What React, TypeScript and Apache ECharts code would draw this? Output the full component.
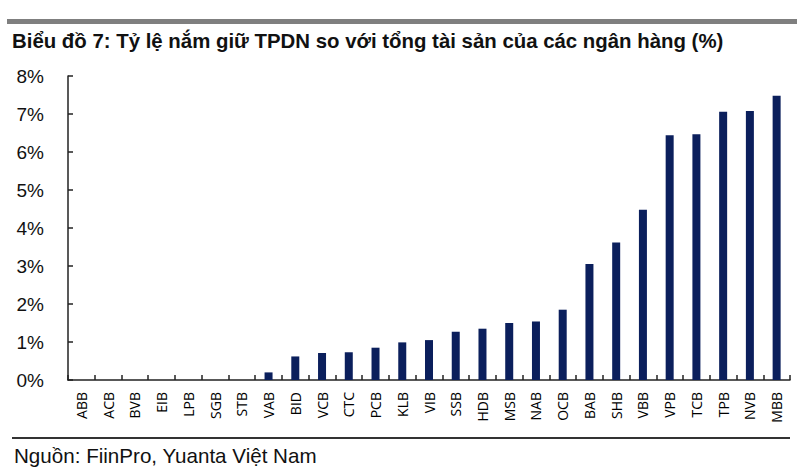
import React, { useEffect, useRef } from "react";
import * as echarts from "echarts";

const categories = ["ABB","ACB","BVB","EIB","LPB","SGB","STB","VAB","BID","VCB","CTC","PCB","KLB","VIB","SSB","HDB","MSB","NAB","OCB","BAB","SHB","VBB","VPB","TCB","TPB","NVB","MBB"];
const values = [0,0,0,0,0,0,0,0.2,0.62,0.71,0.73,0.85,0.99,1.05,1.27,1.35,1.5,1.54,1.85,3.05,3.62,4.48,6.44,6.47,7.06,7.08,7.48];
const yTicks = { min: 0, max: 8, interval: 1 };
const titleText = "Biểu đồ 7: Tỷ lệ nắm giữ TPDN so với tổng tài sản của các ngân hàng (%)";
const sourceText = "Nguồn: FiinPro, Yuanta Việt Nam";

export default function App() {
  const ref = useRef<HTMLDivElement>(null);
  useEffect(() => {
    if (!ref.current) return;
    const chart = echarts.init(ref.current, null, { renderer: "svg" });
    chart.setOption({
      animation: false,
      backgroundColor: "#ffffff",
      grid: { left: 68, right: 10, top: 76, bottom: 89, containLabel: false },
      xAxis: {
        type: "category",
        data: categories,
        boundaryGap: true,
        axisLine: { show: true, lineStyle: { color: "#222", width: 1.5 } },
        axisTick: { show: true, inside: true, length: 5, alignWithLabel: false, lineStyle: { color: "#222", width: 1.5 } },
        axisLabel: {
          rotate: 90,
          interval: 0,
          margin: 12,
          fontSize: 14,
          color: "#000",
          fontFamily: "Open Sans, Liberation Sans, sans-serif",
        },
        splitLine: { show: false },
      },
      yAxis: {
        type: "value",
        min: yTicks.min,
        max: yTicks.max,
        interval: yTicks.interval,
        axisLine: { show: true, lineStyle: { color: "#222", width: 1.5 } },
        axisTick: { show: true, inside: true, length: 5, lineStyle: { color: "#222", width: 1.5 } },
        axisLabel: {
          formatter: "{value}%",
          fontSize: 19,
          color: "#111",
          margin: 24,
          fontFamily: "Liberation Sans, Arial, sans-serif",
        },
        splitLine: { show: false },
      },
      series: [
        {
          type: "bar",
          data: values,
          barWidth: 8,
          itemStyle: { color: "#0b1f5c" },
        },
      ],
      graphic: {
        elements: [
          {
            id: "topbar",
            type: "rect",
            left: 7,
            top: 19,
            z: 100,
            shape: { width: 790, height: 5 },
            style: { fill: "#7f7f7f" },
          },
          {
            id: "title",
            type: "text",
            x: 12,
            y: 41,
            z: 100,
            style: {
              text: titleText,
              font: "bold 20.4px 'Liberation Sans', Arial, sans-serif",
              fill: "#111",
              textVerticalAlign: "middle",
            },
          },
          { id: "srcline", type: "line", z: 100, shape: { x1: 12, y1: 438, x2: 790, y2: 438 }, style: { stroke: "#333", lineWidth: 2 } },
          {
            id: "source",
            type: "text",
            x: 14,
            y: 455,
            z: 100,
            style: {
              text: sourceText,
              font: "20.6px 'Liberation Sans', Arial, sans-serif",
              fill: "#111",
              textVerticalAlign: "middle",
            },
          },
        ],
      },
    });
    return () => chart.dispose();
  }, []);
  return <div ref={ref} style={{ position: "fixed", left: 0, top: 0, width: 800, height: 469 }} />;
}
